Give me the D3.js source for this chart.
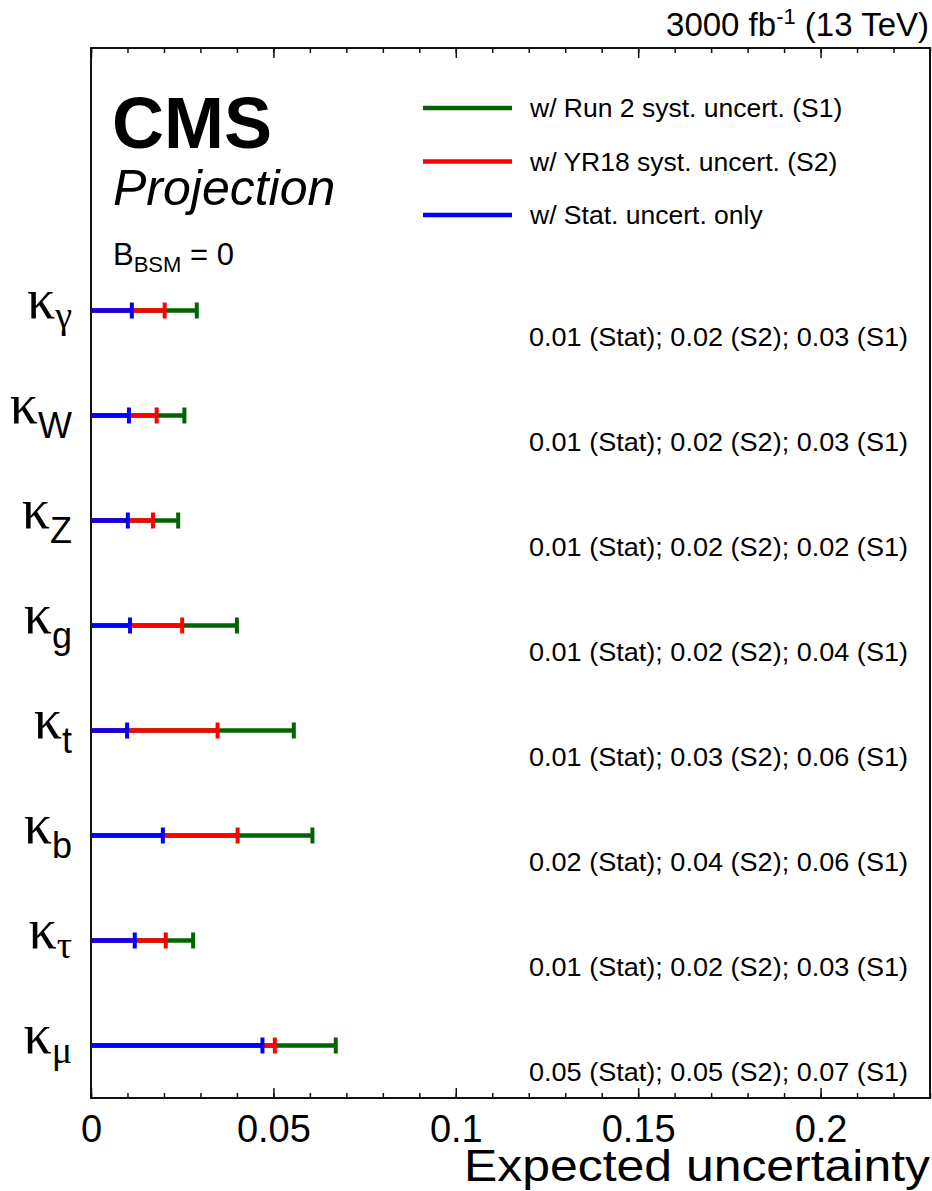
<!DOCTYPE html>
<html>
<head>
<meta charset="utf-8">
<script src="https://cdn.jsdelivr.net/npm/d3@7"></script>
<style>
  body { margin: 0; background: #fff; }
  text { font-family: "Liberation Sans", Arial, Helvetica, sans-serif; fill: #000; }
  .greek { font-family: "Liberation Serif", "DejaVu Serif", serif; }
</style>
</head>
<body>
<svg id="chart"></svg>
<script>
// couplings, top to bottom
const kappas   = ["γ", "W", "Z", "g", "t", "b", "τ", "μ"];
const subGreek = [true, false, false, false, false, false, true, true];

// expected uncertainties
const statOnly = [0.0112, 0.0104, 0.0101, 0.0107, 0.0099, 0.0197, 0.0120, 0.0470];
const yr18S2   = [0.0202, 0.0180, 0.0170, 0.0250, 0.0347, 0.0402, 0.0205, 0.0504];
const run2S1   = [0.0290, 0.0256, 0.0239, 0.0400, 0.0556, 0.0607, 0.0280, 0.0671];

// printed numbers beside each row
const statTxt = ["0.01", "0.01", "0.01", "0.01", "0.01", "0.02", "0.01", "0.05"];
const s2Txt   = ["0.02", "0.02", "0.02", "0.02", "0.03", "0.04", "0.02", "0.05"];
const s1Txt   = ["0.03", "0.03", "0.02", "0.04", "0.06", "0.06", "0.03", "0.07"];

const xTicks = [0, 0.05, 0.1, 0.15, 0.2];
const legendLabels = ["w/ Run 2 syst. uncert. (S1)", "w/ YR18 syst. uncert. (S2)", "w/ Stat. uncert. only"];

const width = 932, height = 1191;
const padL = 91, padR = 930, padT = 48, padB = 1098;
const green = "#006400", red = "#ff0000", blue = "#0000ff";

const svg = d3.select("#chart").attr("width", width).attr("height", height);

const x = d3.scaleLinear().domain([0, 0.23]).range([padL, padR]);
const y = d3.scaleLinear().domain([0, 10]).range([padB, padT]);
const n = kappas.length;
const rowY = i => y(n - 1 - i + 0.5);

// frame
svg.append("rect")
    .attr("x", padL).attr("y", padT)
    .attr("width", padR - padL).attr("height", padB - padT)
    .attr("fill", "none").attr("stroke", "#111").attr("stroke-width", 2);

// bottom axis, ticks pointing in
const minor = d3.range(0, 0.2301, 0.01);
svg.append("g")
    .attr("transform", `translate(0,${padB})`)
    .call(d3.axisBottom(x).tickValues(minor).tickSize(-5).tickSizeOuter(0).tickFormat(""))
    .call(g => g.select(".domain").remove())
    .call(g => g.selectAll("line").attr("stroke", "#111").attr("stroke-width", 1.5));

svg.append("g")
    .attr("transform", `translate(0,${padB})`)
    .call(d3.axisBottom(x).tickValues(xTicks).tickSize(-10).tickSizeOuter(0)
        .tickPadding(17).tickFormat(d3.format("")))
    .call(g => g.select(".domain").remove())
    .call(g => g.selectAll("line").attr("stroke", "#111").attr("stroke-width", 1.5))
    .call(g => g.selectAll("text")
        .style("font-family", "'Liberation Sans', Arial, sans-serif")
        .attr("font-size", 38).attr("fill", "#000"));

// top axis mirror ticks
svg.append("g")
    .attr("transform", `translate(0,${padT})`)
    .call(d3.axisTop(x).tickValues(minor).tickSize(-5).tickSizeOuter(0).tickFormat(""))
    .call(g => g.select(".domain").remove())
    .call(g => g.selectAll("line").attr("stroke", "#111").attr("stroke-width", 1.5));
svg.append("g")
    .attr("transform", `translate(0,${padT})`)
    .call(d3.axisTop(x).tickValues(xTicks).tickSize(-10).tickSizeOuter(0).tickFormat(""))
    .call(g => g.select(".domain").remove())
    .call(g => g.selectAll("line").attr("stroke", "#111").attr("stroke-width", 1.5));

// bars: S1 first, then S2, then stat on top
const series = [
    { vals: run2S1, color: green },
    { vals: yr18S2, color: red },
    { vals: statOnly, color: blue }
];
const capH = 16;
series.forEach(s => {
    const g = svg.append("g");
    g.selectAll("line.bar")
        .data(s.vals)
        .enter().append("line")
        .attr("class", "bar")
        .attr("x1", x(0)).attr("x2", d => x(d))
        .attr("y1", (d, i) => rowY(i)).attr("y2", (d, i) => rowY(i))
        .attr("stroke", s.color).attr("stroke-width", 4.5);
    g.selectAll("line.cap")
        .data(s.vals)
        .enter().append("line")
        .attr("class", "cap")
        .attr("x1", d => x(d)).attr("x2", d => x(d))
        .attr("y1", (d, i) => rowY(i) - capH / 2).attr("y2", (d, i) => rowY(i) + capH / 2)
        .attr("stroke", s.color).attr("stroke-width", 4);
});

// kappa labels
const lab = svg.append("g").selectAll("text")
    .data(kappas)
    .enter().append("text")
    .attr("x", 72)
    .attr("y", (d, i) => rowY(i) + 7)
    .attr("text-anchor", "end");
lab.append("tspan").attr("class", "greek").attr("font-size", 56).text("κ");
lab.append("tspan")
    .attr("class", (d, i) => subGreek[i] ? "greek" : null)
    .attr("font-size", (d, i) => subGreek[i] ? 38 : 36)
    .attr("dy", (d, i) => subGreek[i] ? 10 : 15)
    .text(d => d);

// numbers on the right
svg.append("g").selectAll("text")
    .data(kappas)
    .enter().append("text")
    .attr("x", 908)
    .attr("y", (d, i) => rowY(i) + 35)
    .attr("text-anchor", "end")
    .attr("font-size", 26)
    .attr("textLength", 379)
    .attr("lengthAdjust", "spacingAndGlyphs")
    .text((d, i) => `${statTxt[i]} (Stat); ${s2Txt[i]} (S2); ${s1Txt[i]} (S1)`);

// legend
const legColors = [green, red, blue];
const leg = svg.append("g").selectAll("g")
    .data(legendLabels)
    .enter().append("g")
    .attr("transform", (d, i) => `translate(0,${108 + i * 53.5})`);
leg.append("line")
    .attr("x1", 423).attr("x2", 512)
    .attr("stroke", (d, i) => legColors[i]).attr("stroke-width", 4.5);
leg.append("text")
    .attr("x", 530).attr("y", 9)
    .attr("font-size", 26.5)
    .text(d => d);

// CMS label block
svg.append("text").attr("x", 112).attr("y", 148)
    .attr("font-size", 72).attr("font-weight", "bold").text("CMS");
svg.append("text").attr("x", 113).attr("y", 205)
    .attr("font-size", 50).attr("font-style", "italic").text("Projection");
const bb = svg.append("text").attr("x", 113).attr("y", 265).attr("font-size", 31);
bb.append("tspan").text("B");
bb.append("tspan").attr("font-size", 22).attr("dy", 7).text("BSM");
bb.append("tspan").attr("dy", -7).text(" = 0");

// lumi header
const hdr = svg.append("text").attr("x", 929).attr("y", 36)
    .attr("text-anchor", "end").attr("font-size", 33);
hdr.append("tspan").text("3000 fb");
hdr.append("tspan").attr("font-size", 22).attr("dy", -12).text("-1");
hdr.append("tspan").attr("dy", 12).text(" (13 TeV)");

// x title
svg.append("text").attr("x", 930).attr("y", 1181)
    .attr("text-anchor", "end").attr("font-size", 45)
    .attr("textLength", 466)
    .attr("lengthAdjust", "spacingAndGlyphs")
    .text("Expected uncertainty");
</script>
</body>
</html>
